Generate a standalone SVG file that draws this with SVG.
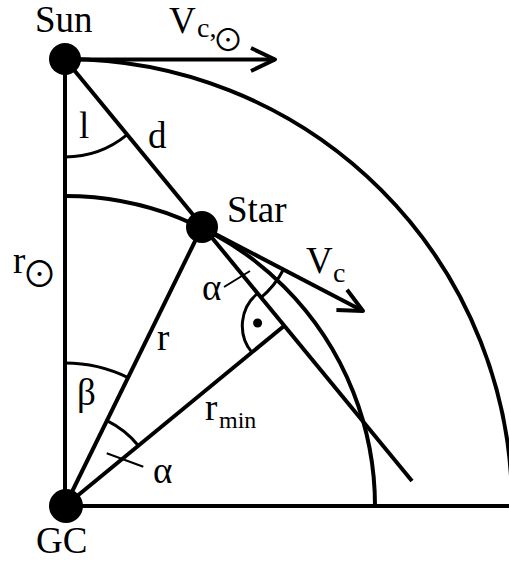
<svg xmlns="http://www.w3.org/2000/svg" width="509" height="563" viewBox="0 0 509 563">
  <style>
    .ln { stroke: #000; stroke-width: 4; fill: none; stroke-linecap: butt; }
    .th { stroke: #000; stroke-width: 3; fill: none; }
    .tk { stroke: #000; stroke-width: 2; fill: none; }
    .dot { fill: #000; }
    .t { font-size: 37px; fill: #000; }
    .sub { font-size: 28px; fill: #000; }
    .sm { font-size: 24px; fill: #000; }
    .odot { fill: #000; text-anchor: middle; }
  </style>
  <defs>
    <marker id="arr" markerUnits="userSpaceOnUse" viewBox="-30 -16 34 32" markerWidth="34" markerHeight="32" refX="0" refY="0" orient="auto" overflow="visible">
      <path d="M-24,-11.5 L0,0 L-24,11.5" stroke="#000" stroke-width="4" fill="none" stroke-linejoin="round"/>
    </marker>
  </defs>
  <rect width="509" height="563" fill="#fff"/>

  <g id="connectors">
    <line class="ln" x1="65" y1="59" x2="65" y2="506"/>
    <line class="ln" x1="65" y1="506" x2="509" y2="506"/>
    <path class="ln" d="M65,59 A447,447 0 0 1 512,506"/>
    <path class="ln" d="M65,196 A310,310 0 0 1 375,506"/>
    <line class="ln" x1="65" y1="59" x2="412" y2="481"/>
    <line class="ln" x1="65" y1="506" x2="202" y2="227"/>
    <line class="ln" x1="65" y1="506" x2="284.3" y2="325.7"/>
    <line class="ln" x1="65" y1="59.5" x2="275" y2="59.5" marker-end="url(#arr)"/>
    <line class="ln" x1="202" y1="227" x2="363" y2="311" marker-end="url(#arr)"/>
    <path class="th" d="M65,157 A98,98 0 0 0 127.2,134.7"/>
    <path class="th" d="M65,363 A143,143 0 0 1 128,377.6"/>
    <path class="th" d="M106.9,420.7 A95,95 0 0 1 138.4,445.7"/>
    <path class="th" d="M260.4,298.1 A92,92 0 0 0 283.6,269.2"/>
    <path class="th" d="M257.6,293.3 A42,42 0 0 0 251.9,352.4"/>
    <circle class="dot" cx="257.6" cy="323" r="4.5"/>
    <line class="tk" x1="106.7" y1="453.3" x2="143.3" y2="466.7"/>
    <line class="tk" x1="224" y1="287" x2="250" y2="271"/>
  </g>

  <g font-family="'Liberation Serif', 'Times New Roman', 'DejaVu Serif', serif">
    <g id="node-sun">
      <circle class="dot" cx="65" cy="59" r="16"/>
      <text class="t" x="35" y="32">Sun</text>
    </g>
    <g id="node-star">
      <circle class="dot" cx="202" cy="227" r="16"/>
      <text class="t" x="227" y="222">Star</text>
    </g>
    <g id="node-gc">
      <circle class="dot" cx="66" cy="506" r="17"/>
      <text class="t" x="36" y="553">GC</text>
    </g>

    <g id="labels">
      <text class="t" x="79" y="138">l</text>
      <text class="t" x="148" y="148">d</text>
      <text class="t" x="157" y="350">r</text>
      <text class="t" x="77" y="405">β</text>
      <text class="t" x="153" y="483">α</text>
      <text class="t" x="202" y="300">α</text>
      <g id="label-rmin">
        <text class="t" x="205" y="420">r</text>
        <text class="sm" x="219" y="428">min</text>
      </g>
      <g id="label-rsun">
        <text class="t" x="13" y="273">r</text>
        <text class="odot" x="39.5" y="287" font-size="35" font-family="'Noto Sans CJK SC', 'DejaVu Sans', sans-serif">⊙</text>
      </g>
      <g id="label-vcsun">
        <text class="t" x="169" y="33">V</text>
        <text class="sub" x="197" y="37">c,</text>
        <text class="odot" x="228" y="51" font-size="31" font-family="'Noto Sans CJK SC', 'DejaVu Sans', sans-serif">⊙</text>
      </g>
      <g id="label-vc">
        <text class="t" x="306" y="273">V</text>
        <text class="sub" x="333" y="282">c</text>
      </g>
    </g>
  </g>
</svg>
